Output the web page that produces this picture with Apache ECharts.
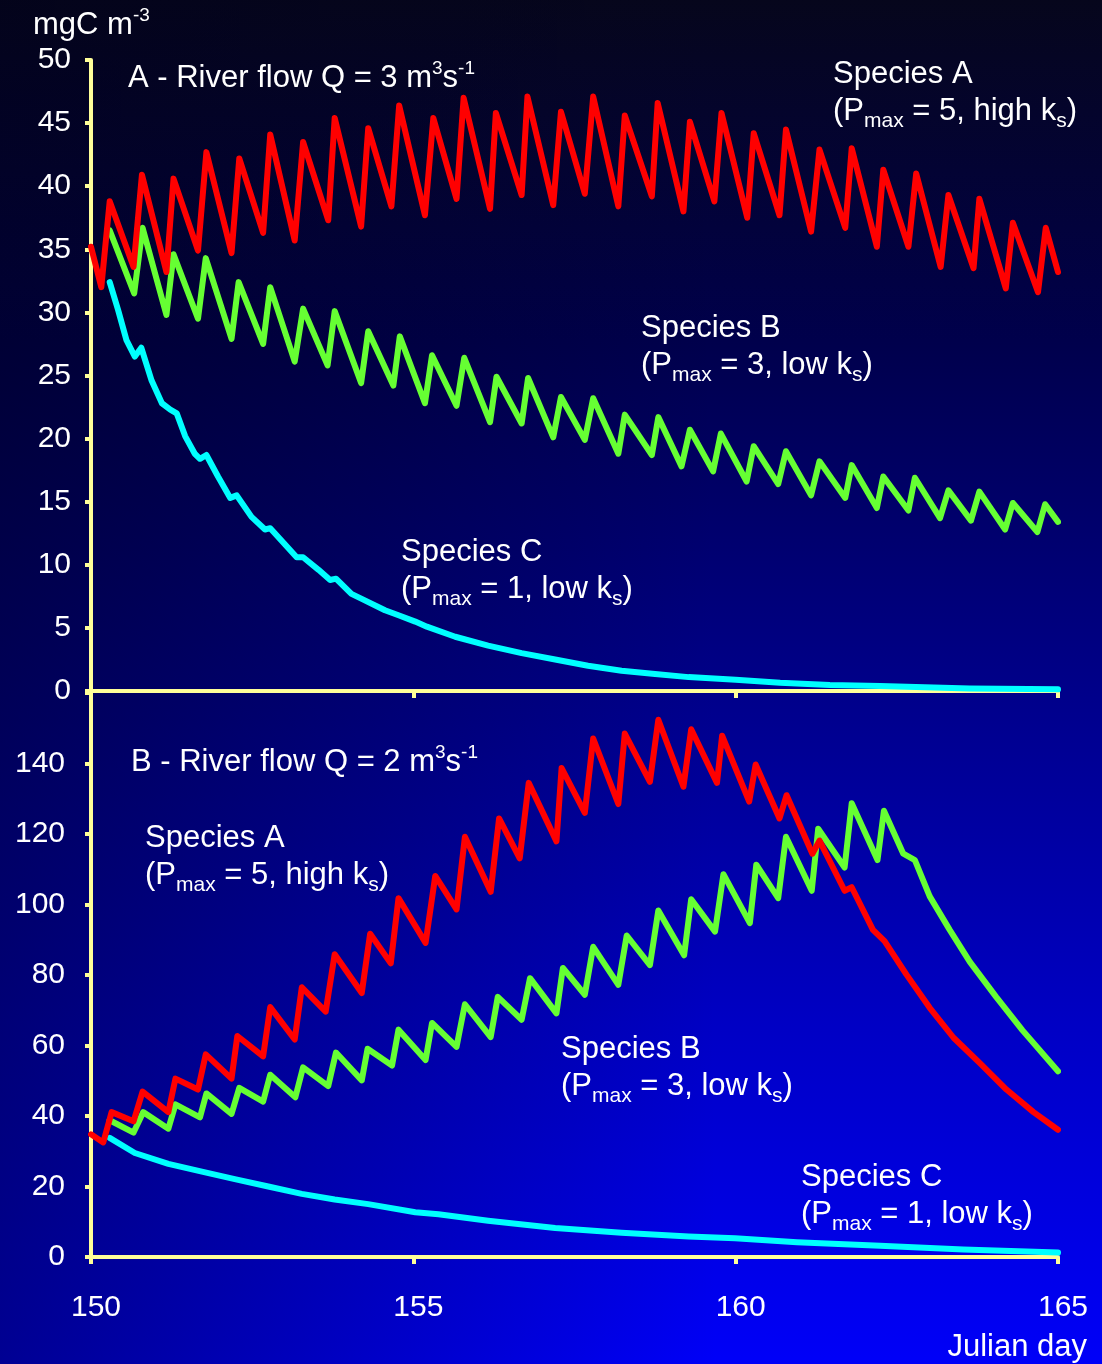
<!DOCTYPE html>
<html>
<head>
<meta charset="utf-8">
<script src="https://cdn.jsdelivr.net/npm/echarts/dist/echarts.min.js"></script>
<style>
html,body{margin:0;padding:0;width:1102px;height:1364px;overflow:hidden;}
body{
  background:
    linear-gradient(to right, rgba(0,0,25,0.45) 0%, rgba(0,0,25,0) 65%),
    linear-gradient(to bottom, #06061c 0%, #00004c 25%, #000088 50%, #0000c4 75%, #0000f8 100%);
}
#chart{width:1102px;height:1364px;}
</style>
</head>
<body>
<div id="chart"></div>
<script>
// ---------- DATA ----------
const xTickLabels = [150, 155, 160, 165];

// Panel A (Q = 3 m3/s): [Julian day, mgC m-3]
const topSpeciesA = [[150.00,35.2],[150.16,32.0],[150.29,38.8],[150.66,33.6],[150.79,40.9],[151.17,33.2],[151.28,40.6],[151.66,34.9],[151.79,42.7],[152.18,34.7],[152.30,42.2],[152.67,36.3],[152.78,44.1],[153.16,35.7],[153.29,43.5],[153.68,37.3],[153.78,45.4],[154.19,36.8],[154.30,44.6],[154.66,38.4],[154.78,46.4],[155.18,37.7],[155.31,45.4],[155.67,39.0],[155.78,47.0],[156.19,38.2],[156.28,45.8],[156.68,39.3],[156.77,47.1],[157.17,38.5],[157.29,45.9],[157.66,39.4],[157.79,47.1],[158.18,38.4],[158.28,45.6],[158.70,39.2],[158.79,46.6],[159.19,38.0],[159.29,45.1],[159.67,38.8],[159.78,45.8],[160.18,37.5],[160.28,44.2],[160.68,37.7],[160.78,44.5],[161.17,36.4],[161.30,42.9],[161.70,36.7],[161.80,43.0],[162.19,35.2],[162.29,41.3],[162.68,35.2],[162.80,41.0],[163.18,33.6],[163.30,39.3],[163.69,33.5],[163.78,39.0],[164.19,31.9],[164.30,37.1],[164.69,31.6],[164.81,36.7],[165.00,33.2]];

const topSpeciesB = [[150.29,36.5],[150.67,31.5],[150.80,36.7],[151.17,29.8],[151.28,34.6],[151.66,29.5],[151.78,34.3],[152.18,27.9],[152.29,32.4],[152.67,27.5],[152.78,32.0],[153.16,26.1],[153.29,30.3],[153.67,25.8],[153.78,30.1],[154.19,24.4],[154.30,28.5],[154.69,24.2],[154.79,28.1],[155.18,22.8],[155.29,26.6],[155.67,22.6],[155.79,26.4],[156.19,21.3],[156.29,24.9],[156.68,21.2],[156.78,24.8],[157.17,20.1],[157.29,23.3],[157.66,19.9],[157.79,23.2],[158.18,18.8],[158.28,21.9],[158.70,18.7],[158.80,21.7],[159.16,17.8],[159.29,20.7],[159.65,17.4],[159.77,20.4],[160.17,16.6],[160.28,19.4],[160.66,16.4],[160.78,19.0],[161.17,15.5],[161.30,18.2],[161.70,15.3],[161.80,17.9],[162.19,14.5],[162.29,17.0],[162.68,14.3],[162.78,16.9],[163.17,13.7],[163.30,15.9],[163.65,13.5],[163.78,15.8],[164.18,12.8],[164.30,14.9],[164.68,12.6],[164.80,14.8],[165.00,13.4]];

const topSpeciesC = [[150.29,32.4],[150.42,30.2],[150.55,27.8],[150.68,26.5],[150.78,27.2],[150.94,24.6],[151.10,22.8],[151.23,22.3],[151.33,22.0],[151.46,20.2],[151.61,18.8],[151.69,18.4],[151.79,18.7],[151.97,17.0],[152.16,15.3],[152.26,15.5],[152.49,13.8],[152.70,12.8],[152.78,12.9],[153.01,11.6],[153.19,10.6],[153.29,10.6],[153.53,9.6],[153.71,8.8],[153.80,8.9],[154.04,7.7],[154.20,7.3],[154.56,6.4],[154.77,6.0],[155.03,5.5],[155.21,5.1],[155.65,4.3],[156.16,3.6],[156.68,3.0],[157.20,2.5],[157.71,2.0],[158.23,1.6],[158.75,1.35],[159.27,1.1],[160.00,0.9],[160.69,0.66],[161.46,0.48],[162.24,0.40],[163.63,0.20],[165.00,0.13]];

// Panel B (Q = 2 m3/s)
const botSpeciesA = [[150.00,34.8],[150.19,32.5],[150.32,41.1],[150.66,38.5],[150.80,46.9],[151.20,41.1],[151.31,50.6],[151.66,47.5],[151.78,57.5],[152.18,50.6],[152.27,62.7],[152.67,56.9],[152.78,70.9],[153.16,61.7],[153.27,76.5],[153.64,69.6],[153.78,85.9],[154.20,74.9],[154.33,91.7],[154.65,83.3],[154.77,101.8],[155.19,89.1],[155.34,108.1],[155.67,98.6],[155.80,119.2],[156.20,103.6],[156.33,124.4],[156.65,113.1],[156.79,134.5],[157.22,117.9],[157.30,138.7],[157.66,126.0],[157.79,147.1],[158.18,128.5],[158.28,148.5],[158.67,134.8],[158.80,152.4],[159.19,133.4],[159.31,149.7],[159.71,134.5],[159.79,147.9],[160.21,129.2],[160.31,139.7],[160.68,124.4],[160.79,131.0],[161.19,114.4],[161.30,118.1],[161.69,103.9],[161.80,104.9],[162.13,92.8],[162.31,89.6],[162.65,80.1],[163.01,70.7],[163.38,62.2],[163.80,54.8],[164.20,47.5],[164.62,41.1],[165.00,36.1]];

const botSpeciesB = [[150.29,38.8],[150.66,35.3],[150.81,41.1],[151.20,36.4],[151.31,43.3],[151.69,39.6],[151.79,46.4],[152.18,40.6],[152.30,48.0],[152.67,44.1],[152.78,51.7],[153.17,45.3],[153.29,53.8],[153.68,48.5],[153.80,58.0],[154.20,50.1],[154.29,59.1],[154.67,54.3],[154.77,64.5],[155.19,55.9],[155.29,66.4],[155.67,59.6],[155.80,71.7],[156.20,62.4],[156.31,73.8],[156.68,67.3],[156.81,79.1],[157.22,69.1],[157.32,82.0],[157.66,74.4],[157.79,88.0],[158.18,77.2],[158.31,91.2],[158.67,82.8],[158.80,98.3],[159.20,85.6],[159.31,101.5],[159.68,92.3],[159.81,108.6],[160.22,94.7],[160.32,111.3],[160.66,101.8],[160.78,119.2],[161.18,103.9],[161.28,121.5],[161.69,110.5],[161.80,128.7],[162.20,112.6],[162.30,126.6],[162.60,114.4],[162.78,112.6],[163.01,102.3],[163.32,92.8],[163.63,83.8],[164.04,73.8],[164.45,64.3],[165.00,52.7]];

const botSpeciesC = [[150.29,33.8],[150.68,29.5],[151.20,26.4],[151.72,24.2],[152.23,22.1],[152.75,20.0],[153.27,17.9],[153.78,16.3],[154.30,15.0],[155.03,12.7],[155.39,12.1],[156.16,10.3],[157.20,8.2],[158.23,6.9],[159.27,5.8],[159.99,5.3],[160.95,4.2],[162.24,3.2],[163.53,2.1],[165.00,1.25]];

// ---------- STYLE ----------
const FONT = '"Liberation Sans", Arial, Helvetica, sans-serif';
const AXIS = '#ffff99';
const RED = '#ff0000', GREEN = '#66ff33', CYAN = '#00ffff';

const chart = echarts.init(document.getElementById('chart'), null, {renderer: 'canvas'});

function xAxisDef(grid, showLabels) {
  return {
    gridIndex: grid, type: 'value', min: 150, max: 165, interval: 5,
    axisLine: {onZero: false, lineStyle: {color: AXIS, width: 4}},
    axisTick: {show: true, length: 7, lineStyle: {color: AXIS, width: 4}},
    axisLabel: {
      show: showLabels, color: '#fff', fontSize: 30, fontFamily: FONT, margin: 36,
      padding: [0, 0, 0, 10],
      formatter: v => xTickLabels.includes(v) ? String(v) : ''
    },
    splitLine: {show: false}
  };
}
function yAxisDef(grid, max, interval, margin, hideMax) {
  return {
    gridIndex: grid, type: 'value', min: 0, max: max, interval: interval,
    axisLine: {show: true, onZero: false, lineStyle: {color: AXIS, width: 4}},
    axisTick: {show: true, length: 6, lineStyle: {color: AXIS, width: 4}},
    axisLabel: {
      color: '#fff', fontSize: 30, fontFamily: FONT, margin: margin,
      formatter: v => (hideMax && v === max) ? '' : String(v)
    },
    splitLine: {show: false}
  };
}
function lineSeries(data, xi, color, z) {
  return {
    type: 'line', xAxisIndex: xi, yAxisIndex: xi, data: data,
    symbol: 'none', showSymbol: false, smooth: false, z: z,
    lineStyle: {color: color, width: 6, join: 'round', cap: 'round'}
  };
}

const rich = {
  sub: {fontSize: 21, lineHeight: 10, padding: [20, 0, 0, 0], verticalAlign: 'middle', fill: '#fff', fontFamily: FONT},
  sup: {fontSize: 19, lineHeight: 28, verticalAlign: 'top', fill: '#fff', fontFamily: FONT}
};
function label(x, yCenter, text, align) {
  return {
    type: 'text', x: x, y: yCenter - 18.5, z: 100,
    style: {
      text: text, fill: '#fff', fontSize: 31, lineHeight: 37, fontFamily: FONT,
      align: align || 'left', verticalAlign: 'top', rich: rich
    }
  };
}
const speciesA = 'Species A\n(P{sub|max} = 5, high k{sub|s})';
const speciesB = 'Species B\n(P{sub|max} = 3, low k{sub|s})';
const speciesC = 'Species C\n(P{sub|max} = 1, low k{sub|s})';

const option = {
  animation: false,
  backgroundColor: 'transparent',
  grid: [
    {left: 91, width: 967, top: 60, height: 631},
    {left: 91, width: 967, top: 693, height: 564}
  ],
  xAxis: [xAxisDef(0, false), xAxisDef(1, true)],
  yAxis: [yAxisDef(0, 50, 5, 20, false), yAxisDef(1, 160, 20, 26, true)],
  series: [
    lineSeries(topSpeciesC, 0, CYAN, 2),
    lineSeries(topSpeciesB, 0, GREEN, 3),
    lineSeries(topSpeciesA, 0, RED, 4),
    lineSeries(botSpeciesC, 1, CYAN, 2),
    lineSeries(botSpeciesB, 1, GREEN, 3),
    lineSeries(botSpeciesA, 1, RED, 4)
  ],
  graphic: [
    label(33, 25, 'mgC m{sup|-3}'),
    label(128, 78, 'A - River flow Q = 3 m{sup|3}s{sup|-1}'),
    label(833, 74, speciesA),
    label(641, 328, speciesB),
    label(401, 552, speciesC),
    label(131, 762, 'B - River flow Q = 2 m{sup|3}s{sup|-1}'),
    label(145, 838, speciesA),
    label(561, 1049, speciesB),
    label(801, 1177, speciesC),
    label(1087, 1347, 'Julian day', 'right')
  ]
};
chart.setOption(option);
</script>
</body>
</html>
